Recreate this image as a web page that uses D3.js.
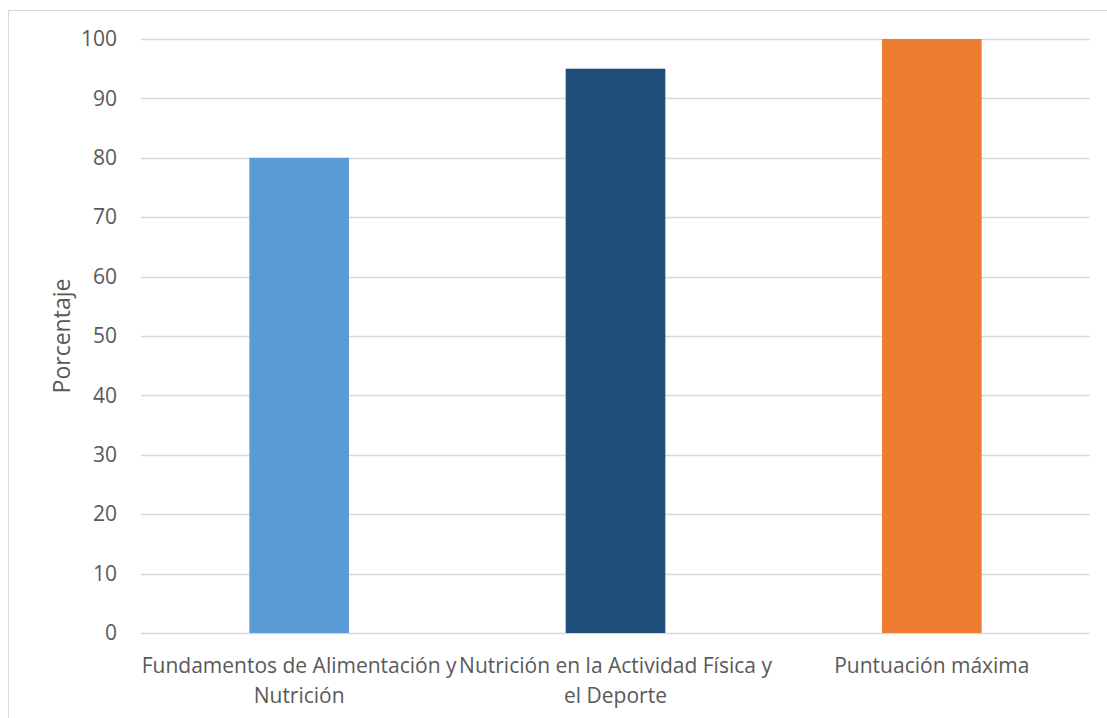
<!DOCTYPE html>
<html>
<head>
<meta charset="utf-8">
<script src="https://cdn.jsdelivr.net/npm/d3@7"></script>
<style>
  body { margin: 0; background: #fff; }
  text { font-family: "Open Sans", "Noto Sans", sans-serif; fill: #595959; }
</style>
</head>
<body>
<div id="chart"></div>
<script>
// data
const categories = ["Fundamentos de Alimentación y Nutrición", "Nutrición en la Actividad Física y el Deporte", "Puntuación máxima"];
const categoryLines = [["Fundamentos de Alimentación y", "Nutrición"], ["Nutrición en la Actividad Física y", "el Deporte"], ["Puntuación máxima"]];
const values = [80, 95, 100];
const barColors = ["#5B9BD5", "#1F4E79", "#ED7D31"];
const yTicks = [0, 10, 20, 30, 40, 50, 60, 70, 80, 90, 100];
const yTitle = "Porcentaje";

const W = 1107, H = 718;
const margin = {top: 39, right: 17, bottom: 85, left: 141};
const w = W - margin.left - margin.right;
const h = H - margin.top - margin.bottom;

const svg = d3.select("#chart").append("svg")
    .attr("width", W)
    .attr("height", H);

// chart border
svg.append("rect")
    .attr("x", 8.5).attr("y", 10.5)
    .attr("width", 1200).attr("height", 800)
    .attr("fill", "none")
    .attr("stroke", "#D9D9D9");

const g = svg.append("g")
    .attr("transform", "translate(" + margin.left + "," + margin.top + ")");

const x = d3.scaleBand()
    .domain(categories)
    .range([0, w])
    .paddingInner(0.685)
    .paddingOuter(0.3425);

const y = d3.scaleLinear()
    .domain([0, 100])
    .range([h, 0]);

// gridlines
g.selectAll(".grid")
    .data(yTicks)
    .enter().append("line")
    .attr("x1", 0).attr("x2", w)
    .attr("y1", d => Math.round(y(d)) + 0.5)
    .attr("y2", d => Math.round(y(d)) + 0.5)
    .attr("stroke", "#D9D9D9")
    .attr("stroke-width", 1.3);

// y tick labels
const yAxis = d3.axisLeft(y).tickValues(yTicks).tickSize(0).tickPadding(24);
const ya = g.append("g").call(yAxis);
ya.select(".domain").remove();
ya.selectAll("text")
    .style("font-size", "21px")
    .style("font-family", "'Open Sans', sans-serif")
    .style("fill", "#595959");

// bars
g.selectAll(".bar")
    .data(values)
    .enter().append("rect")
    .attr("x", (d, i) => x(categories[i]))
    .attr("width", x.bandwidth())
    .attr("y", d => y(d))
    .attr("height", d => h - y(d))
    .attr("fill", (d, i) => barColors[i]);

// category labels
const lab = g.selectAll(".cat")
    .data(categories)
    .enter().append("text")
    .attr("text-anchor", "middle")
    .attr("transform", d => "translate(" + (x(d) + x.bandwidth() / 2) + "," + (h + 40) + ")")
    .style("font-size", "21px");
lab.each(function(d, i) {
    d3.select(this).selectAll("tspan")
        .data(categoryLines[i])
        .enter().append("tspan")
        .attr("x", 0)
        .attr("dy", (t, j) => j === 0 ? 0 : 30)
        .text(t => t);
});

// y axis title
svg.append("text")
    .attr("transform", "translate(70," + (margin.top + h / 2) + ") rotate(-90)")
    .attr("text-anchor", "middle")
    .style("font-size", "23px")
    .text(yTitle);
</script>
</body>
</html>
